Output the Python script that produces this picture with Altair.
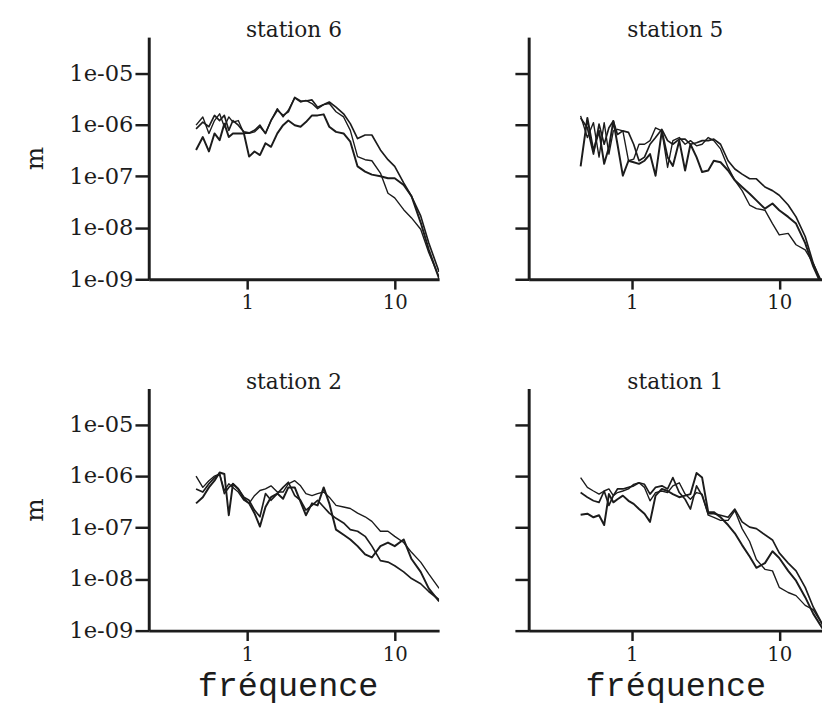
import altair as alt
import pandas as pd

# Frequencies (Hz) shared by all traces
freq = [0.45, 0.5, 0.55, 0.6, 0.65, 0.7, 0.75, 0.8, 0.87, 0.95, 1.03, 1.12, 1.22, 1.33,
        1.45, 1.6, 1.75, 1.9, 2.1, 2.3, 2.5, 2.75, 3.0, 3.3, 3.6, 4.0, 4.5, 5.0, 5.6,
        6.3, 7.0, 8.0, 9.0, 10, 11.5, 13, 15, 17, 20]

stations = ["station 6", "station 5", "station 2", "station 1"]
traces = ["trace 1", "trace 2", "trace 3"]
y_ticks = [1e-9, 1e-8, 1e-7, 1e-6, 1e-5]
x_ticks = [1, 10]

# log10 of spectral amplitude (m)
st6_t1 = [-6.01, -5.85, -6.17, -5.92, -5.79, -6.04, -5.85, -5.95, -5.92, -6.17, -6.17, -6.14, -6.04,
          -6.17, -5.92, -5.69, -5.85, -5.72, -5.48, -5.56, -5.53, -5.59, -5.69, -5.61, -5.59, -5.75,
          -5.85, -6.11, -6.62, -6.68, -6.70, -6.94, -7.33, -7.42, -7.65, -7.81, -8.03, -8.48, -8.96]
st6_t2 = [-6.08, -5.95, -6.04, -5.82, -5.92, -5.82, -6.11, -5.92, -6.01, -6.14, -6.16, -6.11, -6.01,
          -6.17, -5.92, -5.72, -5.82, -5.75, -5.47, -5.54, -5.54, -5.52, -5.66, -5.61, -5.56, -5.66,
          -5.79, -5.98, -6.27, -6.20, -6.20, -6.49, -6.68, -6.81, -7.13, -7.39, -7.77, -8.29, -8.86]
st6_t3 = [-6.49, -6.24, -6.52, -6.17, -6.30, -5.98, -6.24, -6.17, -6.17, -6.17, -6.62, -6.52, -6.59,
          -6.36, -6.43, -6.17, -6.01, -5.92, -6.01, -6.04, -5.95, -5.82, -5.82, -5.80, -6.04, -6.14,
          -6.17, -6.33, -6.81, -6.91, -6.97, -7.00, -7.04, -7.04, -7.17, -7.39, -7.90, -8.42, -8.99]

st5_t1 = [-5.83, -6.25, -5.96, -6.63, -5.96, -6.57, -6.12, -6.09, -6.12, -6.70, -6.67, -6.38, -6.38,
          -6.31, -6.06, -6.12, -6.83, -6.31, -6.25, -6.38, -6.31, -6.41, -6.38, -6.25, -6.31, -6.47,
          -6.83, -7.08, -7.28, -7.56, -7.63, -7.66, -7.92, -8.14, -8.11, -8.33, -8.43, -8.69, -9.13]
st5_t2 = [-5.87, -6.06, -6.57, -5.99, -6.38, -6.06, -5.93, -6.19, -6.12, -6.15, -6.38, -6.70, -6.63,
          -6.38, -6.25, -6.09, -6.31, -6.38, -6.28, -6.28, -6.38, -6.35, -6.31, -6.31, -6.28, -6.38,
          -6.70, -6.86, -6.96, -7.05, -7.05, -7.21, -7.28, -7.37, -7.56, -7.79, -8.17, -8.69, -9.20]
st5_t3 = [-6.81, -5.87, -6.51, -6.12, -6.76, -6.44, -5.93, -6.38, -6.99, -6.70, -6.73, -6.76, -6.70,
          -6.57, -6.99, -6.12, -6.63, -6.80, -6.31, -6.89, -6.38, -6.63, -6.92, -6.89, -6.70, -6.73,
          -6.89, -7.08, -7.21, -7.34, -7.47, -7.63, -7.53, -7.66, -7.79, -7.92, -8.30, -8.75, -9.20]

st2_t1 = [-6.00, -6.22, -6.09, -6.00, -5.96, -6.28, -6.15, -6.22, -6.31, -6.47, -6.53, -6.38, -6.28,
          -6.25, -6.19, -6.31, -6.31, -6.15, -6.09, -6.19, -6.34, -6.38, -6.34, -6.31, -6.41, -6.57,
          -6.60, -6.63, -6.72, -6.79, -6.88, -7.07, -7.07, -7.17, -7.29, -7.48, -7.67, -7.90, -8.18]
st2_t2 = [-6.25, -6.31, -6.15, -6.03, -5.96, -6.34, -6.22, -6.15, -6.25, -6.41, -6.47, -6.66, -6.79,
          -6.34, -6.47, -6.34, -6.22, -6.12, -6.38, -6.47, -6.66, -6.57, -6.47, -6.60, -6.72, -6.82,
          -6.91, -7.04, -7.07, -7.17, -7.36, -7.64, -7.67, -7.74, -7.86, -7.99, -8.09, -8.24, -8.40]
st2_t3 = [-6.53, -6.41, -6.22, -6.09, -5.93, -5.96, -6.76, -6.15, -6.25, -6.44, -6.53, -6.72, -6.98,
          -6.60, -6.41, -6.34, -6.44, -6.22, -6.22, -6.50, -6.76, -6.53, -6.57, -6.22, -6.53, -7.04,
          -7.14, -7.23, -7.36, -7.52, -7.58, -7.36, -7.29, -7.36, -7.23, -7.61, -7.86, -8.18, -8.43]

st1_t1 = [-6.03, -6.22, -6.29, -6.35, -6.29, -6.25, -6.38, -6.32, -6.29, -6.25, -6.16, -6.13, -6.22,
          -6.48, -6.32, -6.29, -6.32, -6.19, -6.13, -6.35, -6.45, -6.32, -6.35, -6.76, -6.80, -6.86,
          -6.86, -6.67, -7.02, -7.27, -7.62, -7.81, -7.84, -8.16, -8.26, -8.32, -8.51, -8.59, -8.92]
st1_t2 = [-6.32, -6.41, -6.48, -6.51, -6.29, -6.57, -6.38, -6.25, -6.25, -6.22, -6.19, -6.13, -6.16,
          -6.35, -6.22, -6.19, -6.25, -6.03, -6.32, -6.45, -6.64, -6.19, -6.38, -6.73, -6.73, -6.76,
          -6.80, -6.64, -6.89, -6.99, -7.02, -7.14, -7.24, -7.49, -7.69, -7.84, -8.16, -8.54, -8.92]
st1_t3 = [-6.75, -6.73, -6.80, -6.76, -6.95, -6.35, -6.51, -6.45, -6.38, -6.48, -6.54, -6.64, -6.73,
          -6.89, -6.38, -6.25, -6.29, -6.35, -6.41, -6.38, -6.35, -5.94, -6.03, -6.70, -6.70, -6.80,
          -6.95, -7.11, -7.34, -7.56, -7.78, -7.69, -7.46, -7.59, -7.84, -8.03, -8.35, -8.67, -8.99]

station_series = {
    "station 6": (st6_t1, st6_t2, st6_t3),
    "station 5": (st5_t1, st5_t2, st5_t3),
    "station 2": (st2_t1, st2_t2, st2_t3),
    "station 1": (st1_t1, st1_t2, st1_t3),
}

rows = []
for st in stations:
    for tr, arr in zip(traces, station_series[st]):
        for f, lg in zip(freq, arr):
            rows.append({"station": st, "trace": tr, "freq": f, "amp": 10.0 ** lg})
df = pd.DataFrame(rows)

INK = "#1c1c1c"
SERIF = "DejaVu Serif"


def panel(st, left, bottom):
    xdom = [0.215, 20] if left else [0.2, 19.5]
    w = 295 if left else 298
    xkw = dict(values=x_ticks, format="d", tickSize=10, labelPadding=4,
               labelFont=SERIF, labelFontSize=20, labelColor=INK)
    if bottom:
        xkw.update(title="fréquence", titleFont="Liberation Mono", titleFontSize=34,
                   titleFontWeight="normal", titleColor=INK, titleBaseline="alphabetic",
                   titleY=66)
        if left:
            xkw.update(titleX=141)
    else:
        xkw.update(title=None)
    ykw = dict(values=y_ticks, tickSize=14)
    if left:
        ykw.update(labelExpr="'1e-0' + round(-log(datum.value) / LN10)", labelPadding=2,
                   labelFont=SERIF, labelFontSize=23, labelColor=INK,
                   title="m", titleFont=SERIF, titleFontSize=25, titleFontWeight="normal",
                   titleColor=INK, titleX=-116, titleY=123, titleBaseline="middle")
    else:
        ykw.update(labels=False, title=None)
    return alt.Chart(df[df.station == st]).mark_line(
        clip=True, color=INK, strokeJoin="round"
    ).encode(
        x=alt.X("freq:Q", scale=alt.Scale(type="log", domain=xdom, nice=False), axis=alt.Axis(**xkw)),
        y=alt.Y("amp:Q", scale=alt.Scale(type="log", domain=[1e-9, 5e-5], nice=False), axis=alt.Axis(**ykw)),
        strokeWidth=alt.StrokeWidth("trace:N", scale=alt.Scale(domain=traces, range=[1.4, 2.0, 3.0]), legend=None),
        detail="trace:N",
    ).properties(
        width=w, height=246,
        title=alt.TitleParams(st, font=SERIF, fontSize=22, fontWeight="normal", color=INK,
                              anchor="middle", offset=-22, baseline="alphabetic"),
    )


top = alt.hconcat(panel("station 6", True, False), panel("station 5", False, False), spacing=75)
bot = alt.hconcat(panel("station 2", True, True), panel("station 1", False, True), spacing=75)

chart = alt.vconcat(top, bot, spacing=59).properties(
    padding={"left": 15, "top": 6, "right": 0, "bottom": 0},
    background="white",
).configure_view(strokeWidth=0).configure_axis(
    grid=False, domainColor=INK, domainWidth=3, tickColor=INK, tickWidth=2.5,
)

chart.save("out.html", embed_options={"renderer": "svg", "actions": False})
